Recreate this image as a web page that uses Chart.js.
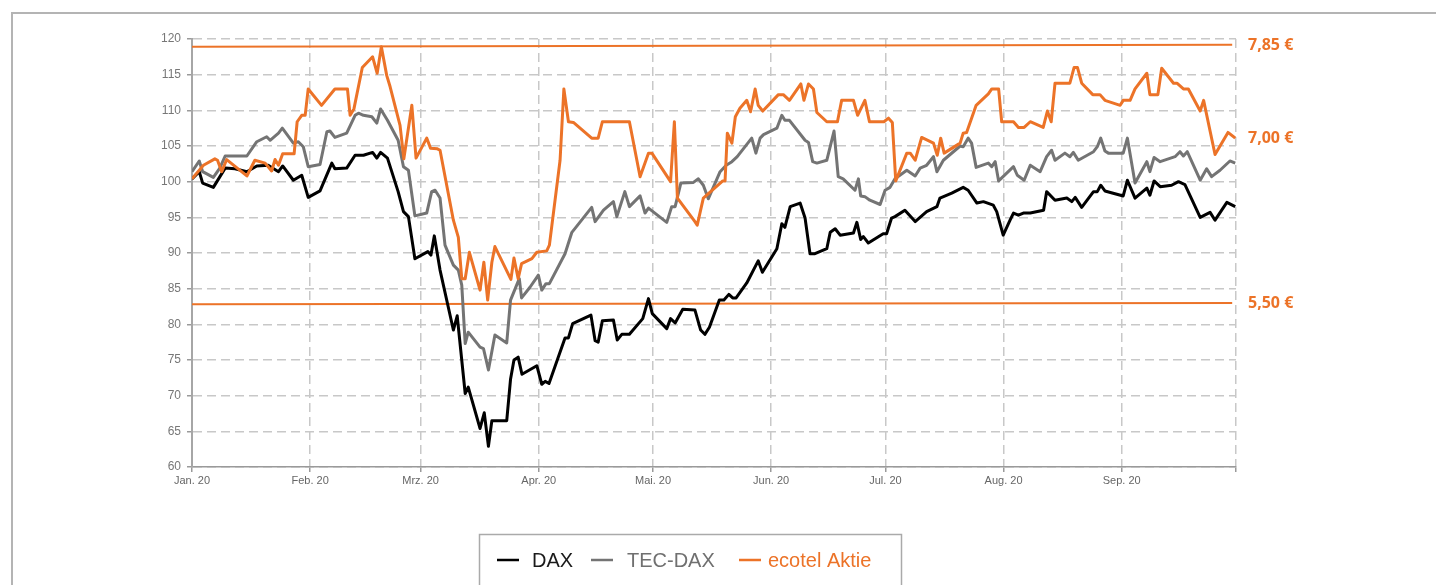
<!DOCTYPE html>
<html>
<head>
<meta charset="utf-8">
<script src="https://cdn.jsdelivr.net/npm/chart.js@4.4.0/dist/chart.umd.min.js"></script>
<style>
  html, body { margin: 0; padding: 0; background: #fff; overflow: hidden; }
  #frame { position: absolute; left: 11px; top: 12px; width: 1500px; height: 700px; border: 2px solid #b4b4b4; box-sizing: border-box; }
  #chart { position: absolute; left: 0; top: 0; }
</style>
</head>
<body>
<div id="frame"></div>
<canvas id="chart" width="1436" height="585"></canvas>
<script>
// x = days since 1 Jan 2020, y = index (start = 100)
const monthTicks = [0, 31, 60, 91, 121, 152, 182, 213, 244, 274];
const monthLabels = ['Jan. 20', 'Feb. 20', 'Mrz. 20', 'Apr. 20', 'Mai. 20', 'Jun. 20', 'Jul. 20', 'Aug. 20', 'Sep. 20', ''];

const seriesNames = ['DAX', 'TEC-DAX', 'ecotel Aktie'];
const seriesColors = ['#000000', '#747474', '#ec7328'];
const legendTextColors = ['#1a1a1a', '#707070', '#ec7328'];

const daxDays = [0, 1.9, 2.8, 5.6, 8.7, 11.3, 14.4, 17, 20, 22.7,
  23.8, 26.6, 28.8, 30.5, 33.6, 36.7, 37.5, 40.6, 42.8, 45,
  47.4, 48.5, 49.5, 51.3, 54.1, 55.5, 56.8, 58.5, 61.9, 62.7,
  63.6, 65.1, 68.6, 69.6, 71.7, 72.5, 75.6, 76.7, 77.8, 78.7,
  82.6, 83.6, 84.5, 85.6, 86.6, 90.5, 91.8, 92.7, 93.7, 97.9,
  98.8, 99.9, 104.7, 105.8, 106.6, 107.7, 110.6, 111.6, 112.8, 114.8,
  118.3, 119.8, 120.8, 124.6, 125.6, 126.8, 128.8, 132, 133.5, 134.6,
  135.8, 138.4, 139.6, 140.9, 141.9, 142.8, 145.6, 148.6, 149.7, 153.5,
  154.8, 155.6, 157, 159.6, 160.9, 162.2, 163.5, 166.6, 167.5, 168.8,
  170.1, 173.6, 174.5, 175.5, 176.2, 177.5, 181.4, 182.3, 183.6, 184.5,
  187.1, 189.8, 192.8, 195.5, 196.3, 199.4, 202.4, 203.7, 206, 207.7,
  210.3, 211.2, 212.9, 214.7, 215.6, 216.9, 218.2, 220, 223.5, 224.3,
  226.5, 229.6, 230.9, 231.8, 233.5, 236.6, 237.6, 238.5, 239.6, 244.4,
  245.5, 247.5, 250.6, 251.4, 252.5, 254.1, 257.1, 258.9, 260.6, 264.6,
  267.2, 268.5, 271.6, 273.8];
const daxValues = [100.4, 101.4, 99.8, 99.2, 101.9, 101.8, 101.4, 102.2, 102.3, 101.4,
  102.2, 100.2, 100.9, 97.8, 98.7, 102.6, 101.8, 101.9, 103.7, 103.7,
  104.1, 103.3, 104.1, 103.3, 98.6, 95.8, 95.1, 89.2, 90.2, 89.7,
  92.4, 87.6, 79.2, 81.2, 70.3, 71.2, 65.4, 67.6, 62.9, 66.5,
  66.5, 72.3, 75.0, 75.4, 73.0, 74.2, 71.6, 72.0, 71.7, 78.1,
  78.1, 80.1, 81.3, 77.7, 77.5, 80.5, 80.6, 77.8, 78.6, 78.6,
  80.8, 83.6, 81.5, 79.4, 80.8, 80.2, 82.1, 82.0, 79.2, 78.6,
  79.6, 83.4, 83.4, 84.2, 83.7, 83.7, 85.8, 88.9, 87.3, 90.6,
  94.1, 93.6, 96.5, 97.0, 94.9, 89.9, 89.9, 90.6, 92.9, 93.4,
  92.5, 92.8, 94.3, 91.9, 92.3, 91.4, 92.7, 92.7, 94.9, 95.1,
  96.0, 94.4, 95.8, 96.5, 97.7, 98.4, 99.2, 98.8, 97.0, 97.2,
  96.7, 95.8, 92.5, 94.6, 95.6, 95.3, 95.6, 95.6, 96.0, 98.6,
  97.4, 97.7, 97.2, 97.8, 96.4, 98.6, 98.6, 99.5, 98.7, 98.0,
  100.2, 97.7, 99.1, 98.1, 100.1, 99.3, 99.5, 100, 99.6, 95.0,
  95.7, 94.6, 97.1, 96.5];

const tecDays = [0, 1.9, 2.8, 5.6, 7.3, 8.7, 14.4, 17, 19.6, 20.5,
  22.7, 23.7, 26.6, 27.9, 29.2, 30.5, 33.6, 35.4, 36.2, 37.5,
  40.6, 42.8, 43.7, 45, 47.2, 48.5, 49.5, 51.3, 54.1, 55.5,
  56.8, 58.5, 61.6, 62.9, 63.8, 65.1, 66.4, 68.6, 69.9, 70.8,
  71.7, 72.5, 75.6, 76.5, 77.8, 79.5, 82.6, 83.6, 85.9, 86.5,
  88.7, 90.9, 91.8, 92.9, 93.8, 97.9, 99.7, 104.9, 105.8, 108,
  110.6, 111.5, 113.6, 114.8, 117.6, 118.9, 119.8, 124.6, 125.9, 126.8,
  128.3, 131.6, 132.9, 134.2, 135.5, 138.6, 140.2, 141.7, 143.1, 146.9,
  148, 149.1, 150, 153.5, 154.8, 155.6, 156.8, 160.9, 161.8, 162.9,
  164, 166.6, 168.5, 169.6, 170.9, 174, 174.9, 175.5, 176.6, 177.9,
  180.6, 181.9, 183.2, 184.5, 187.6, 189.8, 191.1, 192.8, 194.6, 195.5,
  197.2, 201.6, 202.4, 203.7, 204.6, 205.8, 209, 209.9, 210.8, 211.7,
  215.6, 216.6, 218.4, 220, 222.6, 224.3, 225.6, 226.5, 229.1, 230.4,
  231.3, 232.6, 236.6, 237.6, 238.5, 239.6, 240.5, 244.4, 245.5, 247.5,
  250.6, 251.4, 252.5, 254.1, 258, 259.3, 260.2, 261.2, 264.6, 266.3,
  267.6, 269.8, 272.4, 273.8];
const tecValues = [101.4, 102.9, 101.4, 100.6, 101.9, 103.6, 103.6, 105.6, 106.3, 105.8,
  106.8, 107.5, 105.4, 105.6, 104.9, 102.1, 102.4, 107.0, 107.1, 106.2,
  106.8, 109.3, 109.6, 109.3, 109.1, 108.2, 110.2, 108.6, 105.8, 102.1,
  101.6, 95.2, 95.6, 98.6, 98.8, 97.7, 91.1, 88.3, 87.6, 85.5,
  77.3, 78.9, 76.8, 76.6, 73.6, 78.5, 77.4, 83.4, 86.4, 83.7,
  85.2, 86.9, 84.8, 85.7, 85.7, 89.9, 92.9, 96.4, 94.4, 96.0,
  97.2, 95.1, 98.6, 96.5, 98.0, 95.6, 96.3, 94.3, 96.5, 96.5,
  99.8, 99.9, 100.4, 99.5, 97.6, 101.4, 102.3, 102.8, 103.5, 106.1,
  104.0, 106.1, 106.6, 107.5, 109.3, 108.6, 108.6, 105.8, 105.5, 102.8,
  102.6, 103.0, 107.1, 100.7, 100.4, 98.8, 100.4, 98.0, 97.9, 97.4,
  96.8, 98.8, 99.2, 100.4, 101.6, 100.8, 101.9, 102.3, 103.5, 101.4,
  103.0, 105.0, 104.9, 106.1, 105.4, 102.0, 102.6, 102.1, 102.8, 100.1,
  102.1, 100.9, 100.2, 102.3, 101.4, 103.5, 104.4, 103.0, 104.0, 103.5,
  104.1, 103.0, 104.2, 104.9, 106.1, 104.3, 104.0, 104.0, 106.1, 99.8,
  102.8, 101.4, 103.4, 102.8, 103.5, 104.2, 103.6, 104.2, 100.2, 101.8,
  100.7, 101.6, 102.9, 102.6];

const ecotelDays = [0, 3, 6, 6.7, 7.8, 9.1, 14.4, 16.5, 19.2, 20.9,
  21.8, 22.7, 23.8, 26.8, 27.6, 28.8, 29.7, 30.5, 34, 37.5,
  40.8, 41.5, 42.5, 44.7, 47.4, 48.6, 49.7, 51.1, 52, 54.6,
  55.6, 57.7, 58.8, 61.6, 62.6, 64.4, 65.1, 68.6, 69.9, 70.8,
  71.7, 72.8, 75.6, 76.6, 77.6, 78.7, 79.5, 83.7, 84.5, 85.6,
  86.5, 89.2, 90.5, 93.1, 93.8, 96.6, 97.6, 98.8, 100.1, 104.9,
  106.6, 107.7, 114.8, 117.6, 119.8, 120.7, 125.6, 126.6, 127.4, 132,
  132.6, 134.2, 139.3, 139.9, 140.5, 141.7, 142.6, 143.8, 145.6, 146.6,
  147.8, 148.6, 149.8, 153.9, 155.2, 156.8, 159.8, 160.6, 161.8, 163.1,
  164, 166.6, 169.4, 170.5, 173.6, 174.7, 176.6, 177.8, 181.6, 182.8,
  183.8, 184.7, 187.6, 188.5, 189.8, 191.5, 194.6, 195.6, 196.5, 197.4,
  201.6, 202.4, 203.3, 205.8, 209, 209.9, 211.7, 212.5, 215.6, 216.9,
  218.4, 220, 223.4, 224.5, 225.5, 226.5, 230.4, 231.5, 232.4, 233.5,
  236.4, 238.3, 239.6, 243.6, 244.4, 246.2, 247.5, 250.6, 251.4, 253.5,
  254.5, 257.6, 258.5, 260.2, 261.5, 264.6, 265.5, 268.5, 271.9, 273.8];
const ecotelValues = [100.4, 102.3, 103.2, 103.0, 101.4, 103.1, 100.8, 103.0, 102.6, 101.5,
  103.1, 102.3, 103.9, 103.9, 108.4, 109.3, 109.3, 113.0, 110.7, 113.0,
  113.0, 109.3, 110.2, 116.0, 117.5, 115.2, 118.9, 114.9, 113.3, 107.9,
  103.2, 110.7, 103.3, 106.1, 104.7, 104.6, 104.4, 94.6, 92.2, 86.4,
  86.4, 90.1, 84.8, 88.7, 83.4, 88.7, 90.9, 86.3, 89.3, 86.4,
  88.5, 89.2, 90.1, 90.3, 91.1, 103.0, 113.0, 108.4, 108.3, 106.1,
  106.1, 108.4, 108.4, 100.7, 104.0, 104.0, 100.0, 108.4, 97.7, 94.4,
  93.9, 97.7, 100.1, 100.1, 106.8, 105.4, 109.1, 110.3, 111.4, 109.8,
  113.0, 110.7, 109.9, 112.2, 112.2, 111.4, 113.7, 111.4, 113.7, 113.0,
  109.7, 108.4, 108.4, 111.4, 111.4, 109.3, 111.4, 108.4, 108.4, 108.9,
  108.3, 100.1, 104.0, 104.0, 103.0, 106.2, 105.4, 103.7, 106.1, 104.0,
  105.4, 106.8, 106.9, 110.7, 112.3, 113.0, 113.0, 108.4, 108.4, 107.6,
  107.6, 108.4, 107.6, 109.9, 108.4, 113.8, 113.8, 116.0, 116.0, 113.8,
  112.2, 112.2, 111.4, 110.7, 111.4, 111.4, 113.0, 115.2, 112.2, 112.2,
  115.9, 113.8, 113.8, 113.0, 113.0, 109.9, 111.4, 103.8, 106.9, 106.1];

// price marks for the ecotel share (drawn on the index scale)
const refLabels = ['7,85 €', '5,50 €'];
const refDays = [0, 273];
const refStart = [118.9, 82.8];
const refEnd = [119.2, 83.0];
const lastPriceLabel = '7,00 €';

const tickFont = '"Liberation Sans", Arial, sans-serif';
const orange = seriesColors[2];

function points(days, values) {
    return days.map((d, i) => ({ x: d, y: values[i] }));
}

const sideLabels = {
    id: 'sideLabels',
    afterDatasetsDraw(chart) {
        const ctx = chart.ctx;
        const y = chart.scales.y;
        const x0 = chart.chartArea.right + 12;
        ctx.save();
        ctx.font = 'bold 16px "Open Sans", sans-serif';
        ctx.fillStyle = orange;
        ctx.textBaseline = 'middle';
        refLabels.forEach((t, i) => ctx.fillText(t, x0, y.getPixelForValue(refEnd[i]) + 1));
        ctx.fillText(lastPriceLabel, x0, y.getPixelForValue(ecotelValues[ecotelValues.length - 1]));
        ctx.restore();
    }
};

// boxed legend under the chart
const boxLegend = {
    id: 'boxLegend',
    afterDraw(chart) {
        const ctx = chart.ctx;
        const lineX = [497, 591, 739];
        const textX = [532, 627, 768];
        const ly = 560;
        ctx.save();
        ctx.strokeStyle = '#aaaaaa';
        ctx.lineWidth = 1.5;
        ctx.strokeRect(479.5, 534.5, 422, 80);
        ctx.font = '20px ' + tickFont;
        ctx.textBaseline = 'middle';
        seriesNames.forEach((name, i) => {
            ctx.strokeStyle = seriesColors[i];
            ctx.lineWidth = 2.5;
            ctx.beginPath();
            ctx.moveTo(lineX[i], ly);
            ctx.lineTo(lineX[i] + 22, ly);
            ctx.stroke();
            ctx.fillStyle = legendTextColors[i];
            ctx.fillText(name, textX[i], ly + 1);
        });
        ctx.restore();
    }
};

const gridOpts = { color: '#c8c8c8', lineWidth: 1.5, tickLength: 5, tickColor: '#9a9a9a', tickWidth: 1.5 };

const datasets = [
    { label: seriesNames[2], data: points(ecotelDays, ecotelValues), borderColor: seriesColors[2], order: 0 },
    { label: seriesNames[0], data: points(daxDays, daxValues), borderColor: seriesColors[0], order: 1 },
    { label: seriesNames[1], data: points(tecDays, tecValues), borderColor: seriesColors[1], order: 2 }
];
refLabels.forEach((t, i) => {
    datasets.push({
        label: t,
        data: points(refDays, [refStart[i], refEnd[i]]),
        borderColor: orange,
        borderWidth: 2,
        order: 3
    });
});

const chart = new Chart(document.getElementById('chart'), {
    type: 'line',
    data: { datasets: datasets },
    plugins: [sideLabels, boxLegend],
    options: {
        responsive: false,
        animation: false,
        layout: { padding: { left: 0, top: 39, right: 200, bottom: 88 } },
        elements: {
            point: { radius: 0 },
            line: { borderWidth: 3, tension: 0, fill: false, borderJoinStyle: 'round' }
        },
        plugins: {
            legend: { display: false },
            tooltip: { enabled: false }
        },
        scales: {
            x: {
                type: 'linear',
                min: 0,
                max: 274,
                afterBuildTicks: (s) => { s.ticks = monthTicks.map(v => ({ value: v })); },
                afterFit: (s) => { s.height = 30; },
                ticks: {
                    autoSkip: false,
                    maxRotation: 0,
                    padding: 2,
                    color: '#666666',
                    font: { family: tickFont, size: 11 },
                    callback: (v, i) => monthLabels[i]
                },
                grid: gridOpts,
                border: { color: '#9a9a9a', width: 1.5, dash: [9, 5] }
            },
            y: {
                min: 60,
                max: 120,
                afterFit: (s) => { s.width = 192; },
                ticks: {
                    stepSize: 5,
                    padding: 6,
                    color: '#777777',
                    font: { family: tickFont, size: 12 }
                },
                grid: gridOpts,
                border: { color: '#a6a6a6', width: 2, dash: [9, 5] }
            }
        }
    }
});
</script>
</body>
</html>
